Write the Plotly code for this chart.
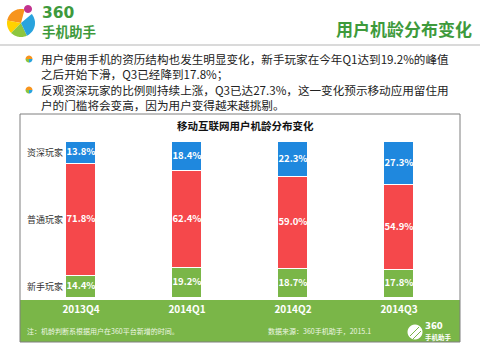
import math
import plotly.graph_objects as go

# ---------------- data ----------------
categories = ["2013Q4", "2014Q1", "2014Q2", "2014Q3"]
newbie = [14.4, 19.2, 18.7, 17.8]      # 新手玩家
regular = [71.8, 62.4, 59.0, 54.9]     # 普通玩家
veteran = [13.8, 18.4, 22.3, 27.3]     # 资深玩家
series_names = ["新手玩家", "普通玩家", "资深玩家"]

header_title = "用户机龄分布变化"
chart_title = "移动互联网用户机龄分布变化"
bullet_paragraphs = [
    ["用户使用手机的资历结构也发生明显变化，新手玩家在今年Q1达到19.2%的峰值",
     "之后开始下滑，Q3已经降到17.8%；"],
    ["反观资深玩家的比例则持续上涨，Q3已达27.3%，这一变化预示移动应用留住用",
     "户的门槛将会变高，因为用户变得越来越挑剔。"],
]
note_text = "注：机龄判断系根据用户在360平台新增的时间。"
source_text = "数据来源：360手机助手，2015.1"

# ---------------- styling ----------------
W, H = 480, 351
FONT = "Noto Sans CJK SC"
BLUE = "#1F88DE"
RED = "#F5484B"
GREEN = "#7AB648"
DARKGREEN = "#3E9A3C"


def X(px):
    return px / W


def Y(py):
    return 1 - py / H


def wedge(cx, cy, r, a0, a1, color, n=24):
    pts = [(cx, cy)]
    for i in range(n + 1):
        a = math.radians(a0 + (a1 - a0) * i / n)
        pts.append((cx + r * math.cos(a), cy + r * math.sin(a)))
    path = "M " + " L ".join(f"{X(px):.5f},{Y(py):.5f}" for px, py in pts) + " Z"
    return dict(type="path", path=path, xref="paper", yref="paper",
                fillcolor=color, line=dict(width=0), layer="above")


def note(px, py, text, size, color, family=FONT, xanchor="left", align="left"):
    return dict(x=X(px), y=Y(py), xref="paper", yref="paper", text=text,
                showarrow=False, xanchor=xanchor, yanchor="middle", align=align,
                borderpad=0, font=dict(size=size, color=color, family=family))


fig = go.Figure()

colors = [GREEN, RED, BLUE]
series = [newbie, regular, veteran]
for name, vals, col in zip(series_names, series, colors):
    fig.add_trace(go.Bar(
        x=categories, y=vals, name=name, width=0.285,
        marker=dict(color=col, line=dict(color="white", width=1)),
        hoverinfo="skip", showlegend=False,
    ))

# value labels at segment middles
lab_x, lab_y, lab_t = [], [], []
base = [0.0] * len(categories)
mids_first = []
for vals in series:
    for i, v in enumerate(vals):
        lab_x.append(categories[i])
        lab_y.append(base[i] + v / 2)
        lab_t.append(f"{v:.1f}%")
    mids_first.append(base[0] + vals[0] / 2)
    base = [b + v for b, v in zip(base, vals)]

fig.add_trace(go.Scatter(
    x=lab_x, y=lab_y, text=lab_t, mode="text",
    textfont=dict(color="white", size=9.5, family=FONT, weight="bold"),
    hoverinfo="skip", showlegend=False,
))

annotations = []
for name, ym in zip(series_names, mids_first):
    annotations.append(dict(
        x=categories[0], y=ym, xref="x", yref="y", text=name, showarrow=False,
        xanchor="right", yanchor="middle", xshift=-16,
        font=dict(size=9, color="#333333", family=FONT),
    ))

annotations.append(note(246, 125, f"<b>{chart_title}</b>", 10.5, "#111111", xanchor="center"))
annotations.append(note(473, 29, f"<b>{header_title}</b>", 17, DARKGREEN, xanchor="right"))
annotations.append(note(41, 12.5, "<b>360</b>", 15.5, DARKGREEN, family="DejaVu Sans"))
annotations.append(note(41, 31, "<b>手机助手</b>", 13.5, DARKGREEN))
for lines, yc in zip(bullet_paragraphs, [66.5, 97.5]):
    annotations.append(note(40, yc, "<br>".join(lines), 11.6, "#222222"))
annotations.append(note(26, 331, note_text, 7, "#EEF7E4"))
annotations.append(note(267, 331, source_text, 7, "#EEF7E4"))
annotations.append(note(424, 326, "<b>360</b>", 8.5, "white", family="DejaVu Sans"))
annotations.append(note(424, 336.5, "<b>手机助手</b>", 6.5, "white"))

shapes = []
shapes.append(dict(type="line", xref="paper", yref="paper", x0=0, x1=1, y0=Y(45), y1=Y(45),
                   line=dict(color="#DADADA", width=2), layer="below"))
shapes.append(dict(type="rect", xref="paper", yref="paper", x0=X(20), x1=X(460),
                   y0=Y(342), y1=Y(114), fillcolor="white", line=dict(width=0), layer="below"))
shapes.append(dict(type="rect", xref="paper", yref="paper", x0=X(20), x1=X(460),
                   y0=Y(342), y1=Y(300), fillcolor=GREEN, line=dict(width=0), layer="below"))
shapes.append(dict(type="rect", xref="paper", yref="paper", x0=X(20), x1=X(460),
                   y0=Y(342), y1=Y(114), fillcolor="rgba(0,0,0,0)",
                   line=dict(color="#7F7F7F", width=1), layer="below"))

# header logo ball
cx, cy, r = 21, 23, 14
shapes += [
    wedge(cx, cy, r, 190, 285, "#F7941D"),
    wedge(cx, cy, r, 135, 190, "#FFD200"),
    wedge(cx, cy, r, 65, 135, "#8DC63F"),
    wedge(cx, cy, r, -40, 65, "#29A3DD"),
    wedge(28, 9, 4, 0, 360, "#C2338F"),
]
# bullet icons
for by in (59, 90):
    shapes += [
        wedge(29, by, 3.5, 180, 360, "#F7941D", 10),
        wedge(29, by, 3.5, 90, 180, "#8DC63F", 8),
        wedge(29, by, 3.5, 0, 90, "#29A3DD", 8),
    ]
# small white logo in band
shapes.append(wedge(415, 332, 7.5, 0, 360, "white"))
shapes.append(dict(type="line", xref="paper", yref="paper", x0=X(410), x1=X(419),
                   y0=Y(336), y1=Y(327), line=dict(color=GREEN, width=1), layer="above"))
shapes.append(dict(type="line", xref="paper", yref="paper", x0=X(413), x1=X(421),
                   y0=Y(339), y1=Y(331), line=dict(color=GREEN, width=1), layer="above"))

fig.update_layout(
    width=W, height=H,
    margin=dict(l=0, r=0, t=0, b=0),
    paper_bgcolor="white", plot_bgcolor="rgba(0,0,0,0)",
    barmode="stack", bargap=0,
    font=dict(family=FONT),
    shapes=shapes, annotations=annotations,
    xaxis=dict(domain=[X(20), X(460)], range=[-0.5755, 3.5755], type="category",
               showgrid=False, zeroline=False, showline=False, ticks="",
               tickfont=dict(color="white", size=10, family=FONT, weight="bold"),
               ticklabelstandoff=4, fixedrange=True),
    yaxis=dict(domain=[Y(298), Y(142)], range=[0, 100], visible=False, fixedrange=True),
)

fig.write_html("out.html")
